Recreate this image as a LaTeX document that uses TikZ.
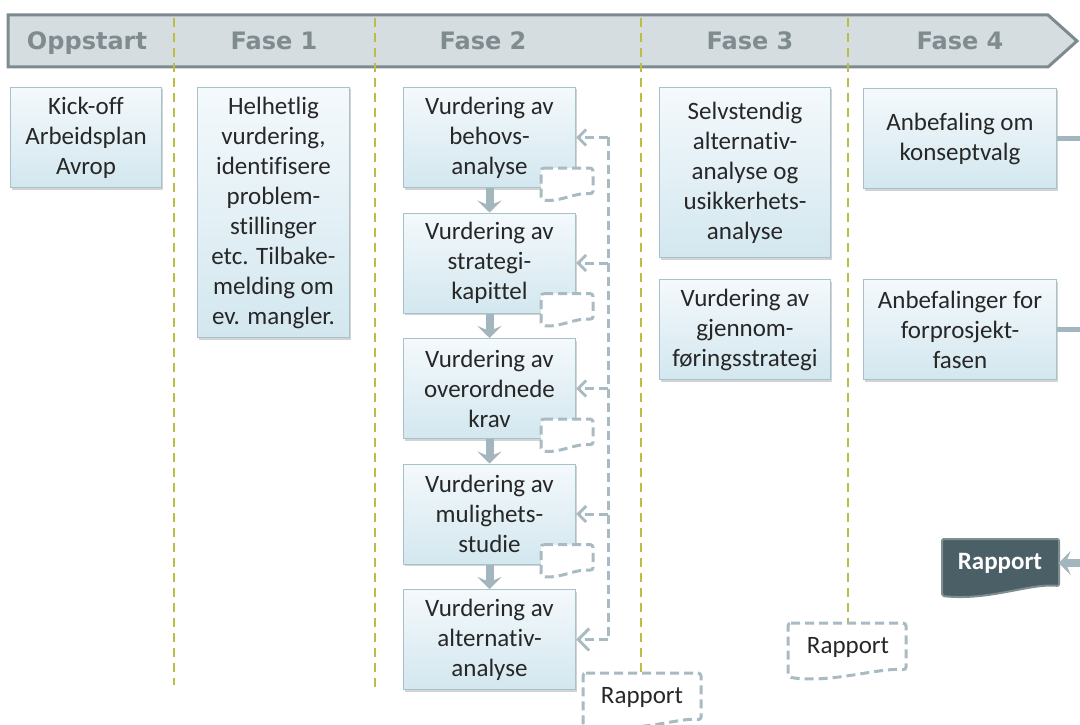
\documentclass[tikz,border=0pt]{standalone}
\usepackage{fontspec}
\setmainfont{Carlito}[Ligatures=NoCommon]
\newfontfamily\phasefont{DejaVu Sans}
\usepackage{tikz}
\usetikzlibrary{arrows.meta,positioning,shadows}
\definecolor{banner}{HTML}{D5DDE0}
\definecolor{bannerline}{HTML}{7D8A8F}
\definecolor{phasetxt}{HTML}{808B90}
\definecolor{divcol}{HTML}{BCBE44}
\definecolor{boxtop}{HTML}{F4F9FC}
\definecolor{boxbot}{HTML}{D3E7EF}
\definecolor{boxline}{HTML}{A8C2CC}
\definecolor{flowcol}{HTML}{A3B6BD}
\definecolor{dashcol}{HTML}{A9BBC2}
\definecolor{txt}{HTML}{272727}
\definecolor{darkfill}{HTML}{4A6066}
\definecolor{darkline}{HTML}{7F8D91}

\begin{document}
\begin{tikzpicture}[
        x=1pt, y=-1pt,
        every node/.style={text=txt, font=\fontsize{25}{30}\selectfont},
        phase/.style={font=\phasefont\bfseries\fontsize{24}{28}\selectfont,
            text=phasetxt, text height=18pt, text depth=5pt},
        box/.style={draw=boxline, line width=1pt, top color=boxtop,
            bottom color=boxbot, align=center, inner sep=4pt,
            anchor=north west,
            drop shadow={shadow xshift=1.5pt, shadow yshift=-2pt, opacity=.35}},
        divider/.style={draw=divcol, line width=2pt, dash pattern=on 9pt off 6pt},
        flow/.style={draw=flowcol, line width=8pt,
            -{Stealth[length=12pt,width=24pt,inset=5pt]}},
        link/.style={draw=flowcol, line width=5pt},
        feedback/.style={draw=dashcol, line width=3pt,
            dash pattern=on 9pt off 5pt},
        doc/.style={draw=dashcol, fill=white, line width=3pt,
            dash pattern=on 9pt off 5pt, rounded corners=3pt},
        darkdoc/.style={draw=darkline, fill=darkfill, line width=2pt,
            rounded corners=2pt},
    ]
    \useasboundingbox (0,0) rectangle (1080,725);
    \clip (0,0) rectangle (1080,725);
    \coordinate (rim) at (1085,0);

    % phase banner
    \draw[fill=banner, draw=bannerline, line width=3pt, line join=miter]
        (8,15) -- (1048,15) -- (1077,41) -- (1048,67) -- (8,67) -- cycle;
    \foreach \x/\yend in {174/685, 375/690, 641/672, 848/622}
        \draw[divider] (\x,18) -- (\x,\yend);
    \node[phase] (p0) at (87,43) {Oppstart};
    \node[phase] (p1) at (274,43) {Fase 1};
    \node[phase] (p2) at (483,43) {Fase 2};
    \node[phase] (p3) at (750,43) {Fase 3};
    \node[phase] (p4) at (960,43) {Fase 4};

    % oppstart and fase 1
    \node[box, minimum width=151pt, minimum height=100pt] (kick) at (10,87)
        {Kick-off\\Arbeidsplan\\Avrop};
    \node[box, minimum width=152pt, minimum height=250pt] (f1) at (197,87)
        {Helhetlig\\vurdering,\\identifisere\\problem-\\stillinger\\etc. Tilbake-\\melding om\\ev. mangler.};

    % fase 2
    \node[box, minimum width=172pt, minimum height=100pt] (b1) at (403,87)
        {Vurdering av\\behovs-\\analyse};
    \node[box, minimum width=172pt, minimum height=100pt, below=24.5pt of b1] (b2)
        {Vurdering av\\strategi-\\kapittel};
    \node[box, minimum width=172pt, minimum height=100pt, below=24.5pt of b2] (b3)
        {Vurdering av\\overordnede\\krav};
    \node[box, minimum width=172pt, minimum height=100pt, below=24.5pt of b3] (b4)
        {Vurdering av\\mulighets-\\studie};
    \node[box, minimum width=172pt, minimum height=100pt, below=24.5pt of b4] (b5)
        {Vurdering av\\alternativ-\\analyse};
    \draw[flow] (b1) -- (b2);
    \draw[flow] (b2) -- (b3);
    \draw[flow] (b3) -- (b4);
    \draw[flow] (b4) -- (b5);

    % small reports
    \foreach \b in {b1,b2,b3,b4}
        \draw[doc] ([shift={(-35,-20)}]\b.south east) -- ([shift={(17,-20)}]\b.south east)
            -- ([shift={(17,6)}]\b.south east)
            .. controls ([shift={(0,4)}]\b.south east) and ([shift={(-15,14)}]\b.south east)
            .. ([shift={(-35,12)}]\b.south east) -- cycle;

    % feedback loop
    \coordinate (fbtop) at (608,137);
    \coordinate (fbbot) at (608,640);
    \draw[feedback] (fbtop) -- (fbbot);
    \foreach \b in {b1,b2,b3,b4}
        \draw[feedback, -{Straight Barb[length=8pt,width=16pt]}] (\b.east -| fbtop) -- (\b.east);
    \draw[feedback, -{Straight Barb[length=11pt,width=22pt]}] (b5.east -| fbtop) -- (b5.east);

    % fase 3
    \node[box, minimum width=171pt, minimum height=170pt] (s1) at (659,87)
        {Selvstendig\\alternativ-\\analyse og\\usikkerhets-\\analyse};
    \node[box, minimum width=171pt, minimum height=100pt] (s2) at (659,279)
        {Vurdering av\\gjennom-\\føringsstrategi};

    % fase 4
    \node[box, minimum width=193pt, minimum height=100pt] (c1) at (863,88)
        {Anbefaling om\\konseptvalg};
    \node[box, minimum width=193pt, minimum height=100pt] (c2) at (863,279)
        {Anbefalinger for\\forprosjekt-\\fasen};
    \draw[link] (c1.east) -- (c1.east -| rim);
    \draw[link] (c2.east) -- (c2.east -| rim);

    % reports
    \draw[doc] (583,673) -- (701,673) -- (701,720)
        .. controls (680,717) and (650,731) .. (583,728) -- cycle;
    \node[minimum width=118pt] (rap2) at (642,697) {Rapport};
    \draw[doc] (788,623) -- (906,623) -- (906,670)
        .. controls (880,667) and (830,684) .. (788,677) -- cycle;
    \node[minimum width=118pt] (rap3) at (848,647) {Rapport};
    \draw[darkdoc] (942,539) -- (1059,539) -- (1059,586)
        .. controls (1030,583) and (990,601) .. (942,596) -- cycle;
    \node[text=white, font=\bfseries\fontsize{25}{30}\selectfont,
        minimum width=117pt] (rap4) at (1000,563) {Rapport};
    \draw[flow] (rap4.east -| rim) -- (rap4.east);
\end{tikzpicture}
\end{document}
